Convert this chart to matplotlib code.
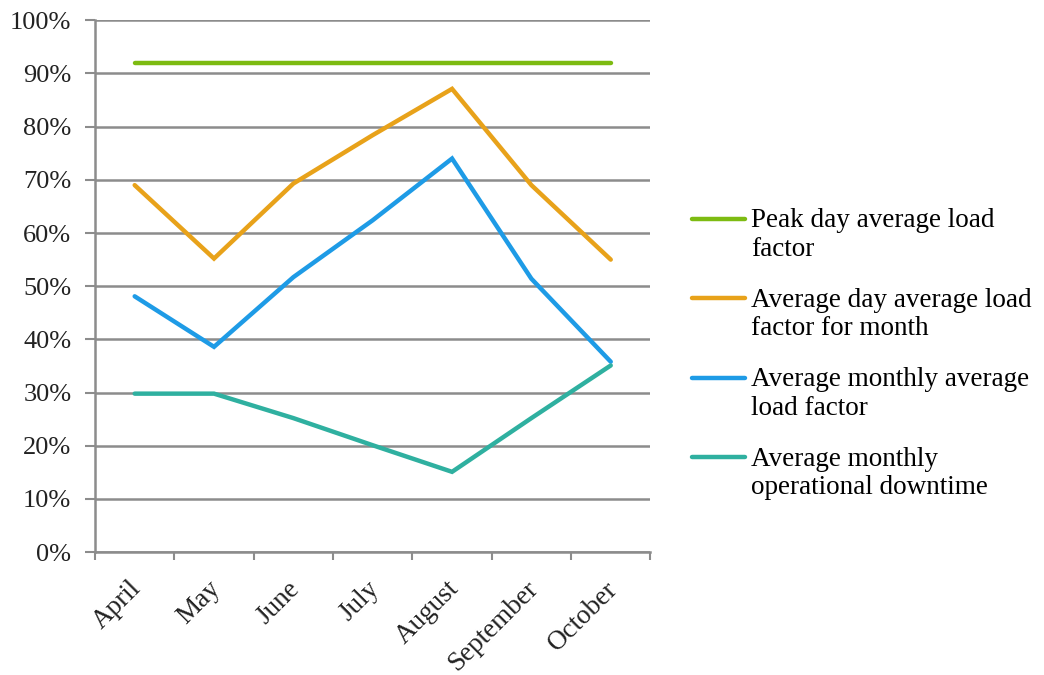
import numpy as np
import matplotlib.pyplot as plt
import matplotlib.transforms as mtransforms
from matplotlib.legend_handler import HandlerLine2D
from matplotlib.ticker import PercentFormatter

plt.rcParams['font.family'] = ['Liberation Serif', 'DejaVu Serif']

months = ["April", "May", "June", "July", "August", "September", "October"]
peak_day = [92, 92, 92, 92, 92, 92, 92]
avg_day = [69, 55.2, 69.3, 78.4, 87.1, 69, 55]
avg_monthly = [48.1, 38.6, 51.7, 62.4, 74, 51.4, 35.8]
downtime = [29.8, 29.8, 25.2, 20.1, 15.1, 25.2, 35.1]

labels = ["Peak day average load\nfactor",
          "Average day average load\nfactor for month",
          "Average monthly average\nload factor",
          "Average monthly\noperational downtime"]
colors = ["#7DBB12", "#E8A21A", "#1E9BE6", "#2FB0A0"]


class FirstLineHandler(HandlerLine2D):
    # put the legend line beside the first row of a two-row label
    def create_artists(self, legend, orig_handle, xdescent, ydescent,
                       width, height, fontsize, trans):
        artists = super().create_artists(legend, orig_handle, xdescent, ydescent,
                                         width, height, fontsize, trans)
        for a in artists:
            a.set_ydata(np.asarray(a.get_ydata(), dtype=float) + 0.6 * fontsize)
        return artists


fig = plt.figure(figsize=(10.44, 6.75), dpi=100)
ax = fig.add_axes([0.091, 0.182, 0.532, 0.788])

x = np.arange(len(months))
for vals, lab, col in zip([peak_day, avg_day, avg_monthly, downtime], labels, colors):
    ax.plot(x, vals, color=col, lw=3.2, label=lab, solid_capstyle='round', solid_joinstyle='miter')

ax.set_xlim(-0.5, len(months) - 0.5)
ax.set_ylim(0, 100)
ax.set_yticks(np.arange(0, 101, 10))
ax.yaxis.set_major_formatter(PercentFormatter(decimals=0))
ax.grid(axis='y', color='#8c8c8c', lw=1.8)
ax.set_axisbelow(True)

ax.set_xticks(x)
ax.set_xticklabels(months, rotation=45, ha='right', rotation_mode='anchor')
ax.set_xticks(np.arange(-0.5, len(months)), minor=True)
ax.tick_params(axis='x', which='major', length=0, pad=16, labelsize=19.5, colors='#222222')
ax.tick_params(axis='x', which='minor', length=6, width=1.5, color='#8c8c8c', direction='out')
ax.tick_params(axis='y', length=7, width=1.5, color='#8c8c8c', labelsize=19, labelcolor='#222222', pad=10)

shift = mtransforms.ScaledTranslation(-0.06, -0.02, fig.dpi_scale_trans)
for lbl in ax.get_xticklabels():
    lbl.set_transform(lbl.get_transform() + shift)

for side in ['top', 'right']:
    ax.spines[side].set_visible(False)
for side in ['left', 'bottom']:
    ax.spines[side].set_color('#8c8c8c')
    ax.spines[side].set_linewidth(1.8)

ax.legend(loc='center left', bbox_to_anchor=(1.055, 0.372), frameon=False,
          fontsize=19.5, handlelength=1.95, handletextpad=0.25, labelspacing=0.95,
          borderaxespad=0, handler_map={plt.Line2D: FirstLineHandler()})

fig.savefig("out.png", dpi=100)
